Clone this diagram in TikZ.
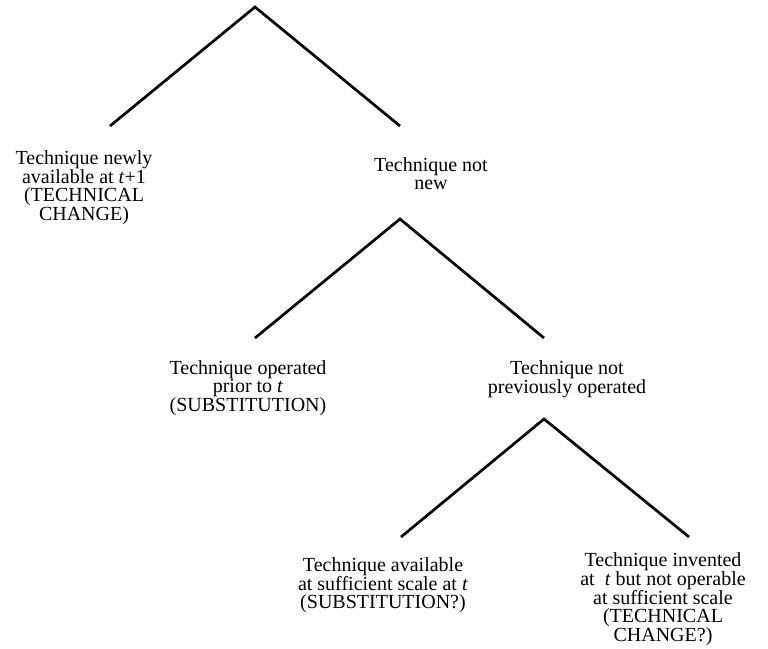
\documentclass[tikz,border=0pt]{standalone}
\usepackage{fontspec}
\setmainfont{Liberation Serif}
\usetikzlibrary{positioning}

\begin{document}
\begin{tikzpicture}[
  x=1pt, y=-1pt,
  branch/.style={line width=2.7pt},
  outcome/.style={align=center, inner sep=0pt, anchor=north, font=\fontsize{20}{18}\selectfont}
]
\useasboundingbox (0,0) rectangle (768,648);

\coordinate (top) at (255,7);
\coordinate (newend) at (110,126);
\coordinate (oldend) at (400,126);
\coordinate (oldfork) at (400,219);
\coordinate (priorend) at (255,338);
\coordinate (unusedend) at (544,338);
\coordinate (unusedfork) at (544,419);
\coordinate (scaleend) at (401,537);
\coordinate (inventend) at (689,537);

\node[outcome] (newtech) at (84,150) {Technique newly\\available at \textit{t}+1\\(TECHNICAL\\CHANGE)};
\node[outcome] (notnew) at (431,157) {Technique not\\new};
\node[outcome] (priorop) at (248,360) {Technique operated\\prior to \textit{t}\\(SUBSTITUTION)};
\node[outcome] (notprev) at (567,360) {Technique not\\previously operated};
\node[outcome] (sufficient) at (383,557) {Technique available\\at sufficient scale at \textit{t}\\(SUBSTITUTION?)};
\node[outcome] (invented) at (663,552) {Technique invented\\at~ \textit{t} but not operable\\at sufficient scale\\(TECHNICAL\\CHANGE?)};

\draw[branch] (newend) -- (top) -- (oldend);
\draw[branch] (priorend) -- (oldfork) -- (unusedend);
\draw[branch] (scaleend) -- (unusedfork) -- (inventend);

\end{tikzpicture}
\end{document}
